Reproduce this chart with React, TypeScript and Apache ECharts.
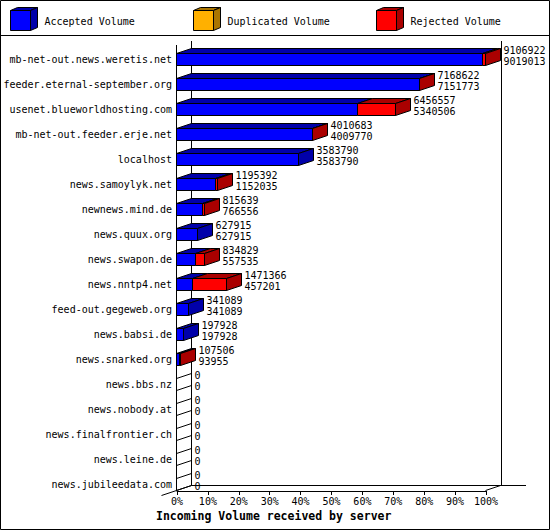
import React, { useEffect, useRef } from "react";
import * as echarts from "echarts";

const hosts = [
  "mb-net-out.news.weretis.net",
  "feeder.eternal-september.org",
  "usenet.blueworldhosting.com",
  "mb-net-out.feeder.erje.net",
  "localhost",
  "news.samoylyk.net",
  "newnews.mind.de",
  "news.quux.org",
  "news.swapon.de",
  "news.nntp4.net",
  "feed-out.gegeweb.org",
  "news.babsi.de",
  "news.snarked.org",
  "news.bbs.nz",
  "news.nobody.at",
  "news.finalfrontier.ch",
  "news.leine.de",
  "news.jubileedata.com",
];

const totalVolume = [
  9106922, 7168622, 6456557, 4010683, 3583790, 1195392, 815639, 627915, 834829,
  1471366, 341089, 197928, 107506, 0, 0, 0, 0, 0,
];

const acceptedVolume = [
  9019013, 7151773, 5340506, 4009770, 3583790, 1152035, 766556, 627915, 557535,
  457201, 341089, 197928, 93955, 0, 0, 0, 0, 0,
];

const duplicatedVolume = [
  0, 0, 0, 0, 0, 0, 0, 0, 0, 0, 0, 0, 0, 0, 0, 0, 0, 0,
];

const rejectedVolume = [
  87909, 16849, 1116051, 913, 0, 43357, 49083, 0, 277294, 1014165, 0, 0, 13551,
  0, 0, 0, 0, 0,
];

const legendNames = ["Accepted Volume", "Duplicated Volume", "Rejected Volume"];

const xAxisTitle = "Incoming Volume received by server";

const FONT = "'DejaVu Sans Mono', 'Liberation Mono', monospace";

const SEG_COLORS = [
  { front: "#0000ff", dark: "#0000aa" },
  { front: "#ffb000", dark: "#aa7500" },
  { front: "#ff0000", dark: "#aa0000" },
];

export default function App() {
  const ref = useRef<HTMLDivElement>(null);

  useEffect(() => {
    document.body.style.margin = "0";
    const chart = echarts.init(ref.current!, null, { renderer: "svg" });
    const maxTotal = Math.max(...totalVolume);
    const pct = (v: number) => (v / maxTotal) * 100;
    const data = hosts.map((_, i) => [
      i,
      pct(acceptedVolume[i]),
      pct(duplicatedVolume[i]),
      pct(rejectedVolume[i]),
      pct(totalVolume[i]),
      totalVolume[i],
      acceptedVolume[i],
    ]);

    const DX = 15;
    const DY = 5;
    const snap = (v: number) => Math.round(v) - 0.5;

    const renderItem = (_params: any, api: any) => {
      const row = api.value(0) as number;
      const base = api.coord([0, row]);
      const yTop = Math.round(base[1]) - 0.5;
      const yBot = yTop + 12;
      const children: any[] = [];
      let start = 0;
      let lastDark: string | null = null;
      for (let s = 0; s < 3; s++) {
        const v = api.value(1 + s) as number;
        if (v > 0) {
          const x1 = snap(api.coord([start, row])[0]);
          const x2 = snap(api.coord([start + v, row])[0]);
          children.push({
            type: "rect",
            shape: { x: x1, y: yTop, width: x2 - x1, height: 12 },
            style: { fill: SEG_COLORS[s].front, stroke: "#000", lineWidth: 1 },
          });
          children.push({
            type: "polygon",
            shape: {
              points: [
                [x1, yTop],
                [x1 + DX, yTop - DY],
                [x2 + DX, yTop - DY],
                [x2, yTop],
              ],
            },
            style: { fill: SEG_COLORS[s].dark, stroke: "#000", lineWidth: 1 },
          });
          lastDark = SEG_COLORS[s].dark;
        }
        start += v;
      }
      const total = api.value(4) as number;
      const xe = snap(api.coord([total, row])[0]);
      children.push({
        type: "polygon",
        shape: {
          points: [
            [xe, yTop],
            [xe + DX, yTop - DY],
            [xe + DX, yBot - DY],
            [xe, yBot],
          ],
        },
        style: { fill: lastDark || "none", stroke: "#000", lineWidth: 1 },
      });
      const tx = xe + DX + 3;
      children.push({
        type: "text",
        style: {
          text: String(api.value(5)),
          x: tx,
          y: yTop - 3,
          verticalAlign: "middle",
          align: "left",
          fontFamily: FONT,
          fontSize: 10,
          fill: "#000",
        },
      });
      children.push({
        type: "text",
        style: {
          text: String(api.value(6)),
          x: tx,
          y: yTop + 8,
          verticalAlign: "middle",
          align: "left",
          fontFamily: FONT,
          fontSize: 10,
          fill: "#000",
        },
      });
      return { type: "group", children };
    };

    const line = (x1: number, y1: number, x2: number, y2: number) => ({
      type: "line",
      shape: { x1, y1, x2, y2 },
      style: { stroke: "#000", lineWidth: 1 },
      silent: true,
    });

    const legendX = [10.5, 193.5, 376.5];
    const legendGraphics: any[] = [];
    legendNames.forEach((name, i) => {
      const x = legendX[i];
      const y = 10.5;
      const c = SEG_COLORS[i];
      legendGraphics.push({
        type: "polygon",
        shape: {
          points: [
            [x, y],
            [x + 7, y - 3],
            [x + 27, y - 3],
            [x + 20, y],
          ],
        },
        style: { fill: c.dark, stroke: "#000", lineWidth: 1 },
      });
      legendGraphics.push({
        type: "polygon",
        shape: {
          points: [
            [x + 20, y],
            [x + 27, y - 3],
            [x + 27, y + 17],
            [x + 20, y + 20],
          ],
        },
        style: { fill: c.dark, stroke: "#000", lineWidth: 1 },
      });
      legendGraphics.push({
        type: "rect",
        shape: { x, y, width: 20, height: 20 },
        style: { fill: c.front, stroke: "#000", lineWidth: 1 },
      });
      legendGraphics.push({
        type: "text",
        style: {
          text: name,
          x: x + 34,
          y: 21,
          verticalAlign: "middle",
          align: "left",
          fontFamily: FONT,
          fontSize: 10,
          fill: "#000",
        },
      });
    });

    chart.setOption({
      animation: false,
      backgroundColor: "#ffffff",
      title: {
        text: xAxisTitle,
        left: 156,
        top: 510,
        padding: 0,
        textStyle: {
          fontFamily: FONT,
          fontSize: 11.5,
          fontWeight: "bold",
          color: "#000",
        },
      },
      grid: { left: 177, right: 64, top: 41, bottom: 39 },
      xAxis: {
        type: "value",
        min: 0,
        max: 100,
        interval: 10,
        axisLine: { show: true, lineStyle: { color: "#000", width: 1 } },
        axisTick: { show: true, length: 4, lineStyle: { color: "#000" } },
        splitLine: { show: false },
        axisLabel: {
          formatter: "{value}%",
          fontFamily: FONT,
          fontSize: 10,
          color: "#000",
          margin: 5,
        },
      },
      yAxis: {
        type: "category",
        inverse: true,
        data: hosts,
        axisLine: { show: false },
        axisTick: { show: false },
        splitLine: { show: false },
        axisLabel: {
          interval: 0,
          fontFamily: FONT,
          fontSize: 10,
          color: "#000",
          margin: 5,
          verticalAlign: "top",
          lineHeight: 12,
        },
      },
      graphic: [
        {
          type: "rect",
          shape: { x: 0.5, y: 0.5, width: 549, height: 529 },
          style: { fill: "none", stroke: "#000", lineWidth: 1 },
          silent: true,
        },
        line(0, 35.5, 550, 35.5),
        line(176.5, 45, 176.5, 490.5),
        line(191.5, 41, 191.5, 485.5),
        line(501.5, 41, 501.5, 485.5),
        line(191.5, 485.5, 526, 485.5),
        line(161.5, 495.5, 191.5, 485.5),
        line(485.5, 490.5, 500.5, 485.5),
        ...legendGraphics,
      ],
      series: [
        {
          type: "custom",
          renderItem,
          encode: { x: 4, y: 0 },
          data,
          z: 5,
        },
      ],
    });

    return () => chart.dispose();
  }, []);

  return <div ref={ref} style={{ width: 550, height: 530 }} />;
}
